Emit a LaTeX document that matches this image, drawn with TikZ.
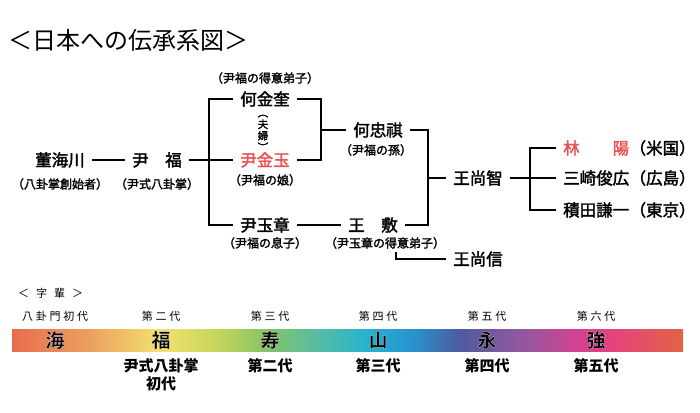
\documentclass[tikz,border=0pt]{standalone}
\usepackage{fontspec}
\newfontfamily\jp[FakeBold=2]{Noto Sans CJK JP}
\newfontfamily\jpthin{Noto Sans CJK JP}
\newfontfamily\jpwide[LetterSpace=25]{Noto Sans CJK JP}
\newfontfamily\jpbar[FakeBold=0.8]{Noto Sans CJK JP Bold}
\newcommand\halo[1]{\special{pdf:literal 1 G}#1}
\definecolor{nameRed}{RGB}{232,82,82}
\definecolor{c0}{RGB}{232,108,80}
\definecolor{c1}{RGB}{236,160,95}
\definecolor{c2}{RGB}{242,226,110}
\definecolor{c3}{RGB}{200,214,92}
\definecolor{c4}{RGB}{135,196,100}
\definecolor{c5}{RGB}{85,188,165}
\definecolor{c6}{RGB}{35,178,208}
\definecolor{c7}{RGB}{40,145,205}
\definecolor{c8}{RGB}{80,90,160}
\definecolor{c9}{RGB}{145,88,158}
\definecolor{c10}{RGB}{228,60,140}
\definecolor{c11}{RGB}{226,98,68}
\pgfdeclarehorizontalshading{rainbow}{100bp}{color(0bp)=(c0); color(25bp)=(c0);
  color(30.81bp)=(c1); color(36.03bp)=(c2); color(40.13bp)=(c3); color(43.85bp)=(c4);
  color(47.95bp)=(c5); color(51.68bp)=(c6); color(55.03bp)=(c7); color(58.38bp)=(c8);
  color(62.85bp)=(c9); color(68.44bp)=(c10); color(75bp)=(c11); color(100bp)=(c11)}

\begin{document}
\begin{tikzpicture}[x=1pt, y=-1pt,
		person/.style={font=\jp\fontsize{16.5}{18}\selectfont, inner xsep=7pt, inner ysep=0pt},
		note/.style={font=\jp\fontsize{12}{14}\selectfont, inner sep=0pt},
		link/.style={line width=2.2pt},
		gen/.style={font=\jpwide\fontsize{11}{12}\selectfont, inner sep=0pt},
		barchar/.style={font=\jpbar\fontsize{19}{20}\selectfont, inner sep=0pt},
		rank/.style={font=\jpthin\bfseries\fontsize{15}{18}\selectfont, align=center, inner sep=0pt, anchor=north}]
		\useasboundingbox (0,0) rectangle (700,412);
		\node[font=\jpthin\fontsize{24}{26}\selectfont, inner sep=0pt, anchor=west] (title) at (8,40) {＜日本への伝承系図＞};
		% lineage
		\node[person] (dong) at (60,160) {董海川};
		\node[note] (dongNote) at (60,184) {（八卦掌創始者）};
		\node[person] (yinfu) at (157,160) {尹　福};
		\node[note] (yinfuNote) at (157,184) {（尹式八卦掌）};
		\node[person] (hekinkei) at (265,99) {何金奎};
		\node[note] (hekinkeiNote) at (265,78) {（尹福の得意弟子）};
		\node[note, align=center, font=\jp\fontsize{10.5}{11.5}\selectfont] (fufu) at (263,133) {︵\\夫\\婦\\︶};
		\node[person, text=nameRed] (kingyoku) at (265,160) {尹金玉};
		\node[note] (kingyokuNote) at (265,180) {（尹福の娘）};
		\node[person] (gyokusho) at (265,225) {尹玉章};
		\node[note] (gyokushoNote) at (265,243) {（尹福の息子）};
		\node[person] (chuki) at (378,130) {何忠祺};
		\node[note] (chukiNote) at (376,150) {（尹福の孫）};
		\node[person] (oufu) at (373,225) {王　敷};
		\node[note] (oufuNote) at (385,243) {（尹玉章の得意弟子）};
		\node[person] (shochi) at (478,178) {王尚智};
		\node[person] (shoshin) at (478,259) {王尚信};
		\node[person, anchor=west, text=nameRed] (rinyo) at (556,148) {林　　陽};
		\node[person, anchor=west] (misaki) at (556,178) {三崎俊広};
		\node[person, anchor=west] (tsumita) at (556,210) {積田謙一};
		\node[person, anchor=west, inner xsep=0pt, xshift=-7pt] (rinyoNote) at (rinyo.east) {（米国）};
		\node[person, anchor=west, inner xsep=0pt, xshift=-7pt] (misakiNote) at (misaki.east) {（広島）};
		\node[person, anchor=west, inner xsep=0pt, xshift=-7pt] (tsumitaNote) at (tsumita.east) {（東京）};
		\coordinate (j1) at (209,160);
		\coordinate (j2) at (321,130);
		\coordinate (j3) at (428,178);
		\coordinate (j4) at (530,178);
		\coordinate (c1) at (396,252);
		\draw[link] (dong) -- (yinfu);
		\draw[link] (yinfu) -- (j1) -- (kingyoku);
		\draw[link] (hekinkei.west) -| (j1) |- (gyokusho.west);
		\draw[link] (hekinkei.east) -| (j2) |- (kingyoku.east);
		\draw[link] (j2) -- (chuki);
		\draw[link] (gyokusho) -- (oufu);
		\draw[link] (chuki.east) -| (j3) |- (oufu.east);
		\draw[link] (j3) -- (shochi);
		\draw[link] (c1) |- (shoshin.west);
		\draw[link] (shochi) -- (j4) -- (misaki);
		\draw[link] (rinyo.west) -| (j4) |- (tsumita.west);
		% generations
		\def\myGens{55/八卦門初代/海/{}, 161/第二代/福/尹式八卦掌\\初代, 270/第三代/寿/第二代, 378/第四代/山/第三代, 487/第五代/永/第四代, 596/第六代/強/第五代}
		\node[gen, anchor=west] (jihai) at (18,293) {＜\kern7pt 字\kern7pt 輩\kern7pt ＞};
		\shade[shading=rainbow] (12,329) rectangle (683,351);
		\foreach \x/\gen/\ch/\rnk [count=\i] in \myGens {
			\node[gen] (gen\i) at (\x,316) {\gen};
			\node[barchar] (ji\i) at (\x,340) {\halo{\ch}};
			\node[rank] (rank\i) at (\x,358) {\rnk};
		}
	\end{tikzpicture}
\end{document}
